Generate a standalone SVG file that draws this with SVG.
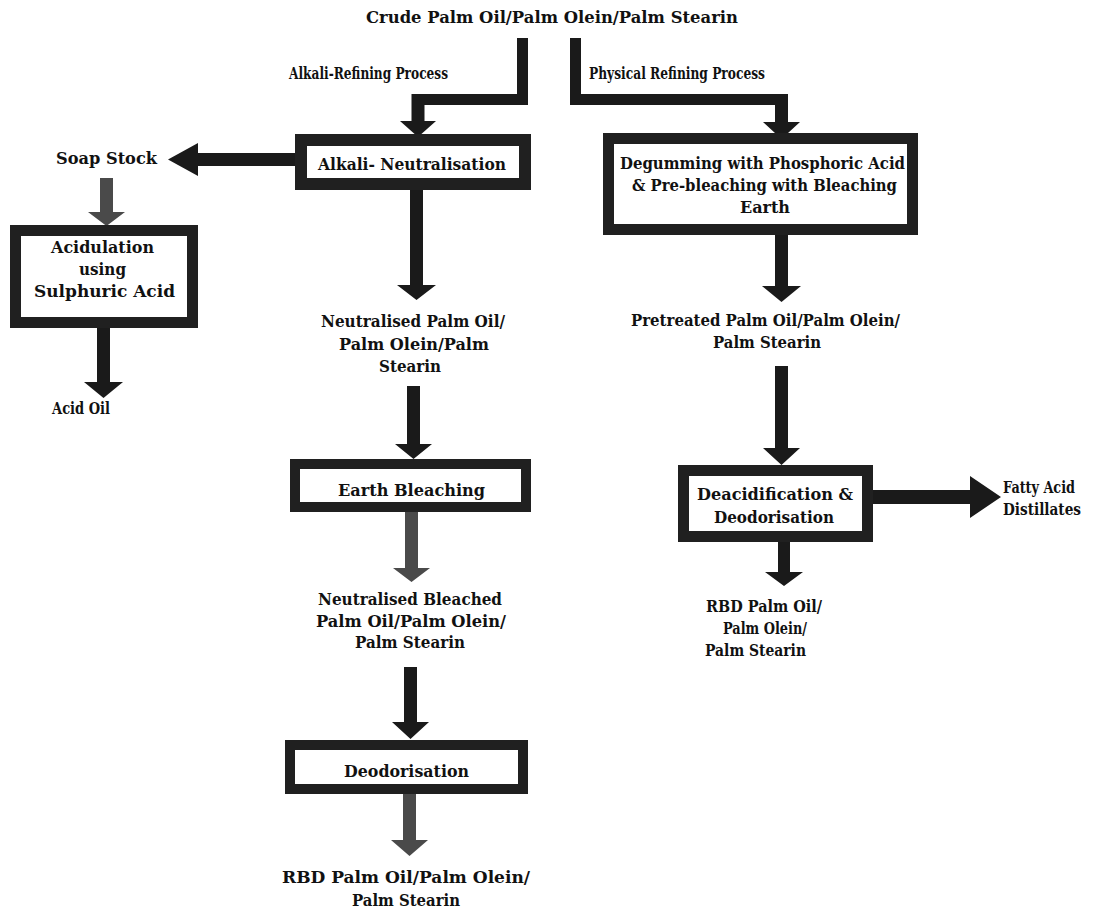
<svg xmlns="http://www.w3.org/2000/svg" width="1107" height="922" viewBox="0 0 1107 922">
<style>
  .t { font-family: "DejaVu Serif", "Liberation Serif", serif; font-weight: bold; font-size: 16px; fill: #111; }
  .box { fill: #fff; stroke: #202020; }
  .ar { fill: #1a1a1a; }
  .ar2 { fill: #4a4a4a; }
</style>
<rect x="0" y="0" width="1107" height="922" fill="#fff"/>

<g id="connectors">
  <path class="ar" d="M517,38 H528 V105 H424.5 V121 H436 L418,137 L400,121 H411.5 V94 H517 Z"/>
  <path class="ar" d="M570,38 H581 V94 H788 V122 H800 L781.5,139 L763,122 H775 V105 H570 Z"/>
  <path class="ar" d="M295,153 V166 H198 V176 L168,159.5 L198,143 V153 Z"/>
  <path class="ar2" d="M100,178 H113 V212 H125 L106.5,226 L88,212 H100 Z"/>
  <path class="ar" d="M97,328 H110 V382 H123 L103.5,398 L84,382 H97 Z"/>
  <path class="ar" d="M410,190 H423 V285 H436 L416.5,300 L397,285 H410 Z"/>
  <path class="ar" d="M407,386 H420 V444 H432 L413.5,459 L395,444 H407 Z"/>
  <path class="ar2" d="M405,512 H418 V568 H430 L411.5,582 L393,568 H405 Z"/>
  <path class="ar" d="M404,667 H417 V722 H429 L410.5,739 L392,722 H404 Z"/>
  <path class="ar2" d="M403,794 H416 V840 H428 L409.5,856 L391,840 H403 Z"/>
  <path class="ar" d="M775,235 H788 V286 H801 L781.5,302 L762,286 H775 Z"/>
  <path class="ar" d="M775,366 H788 V448 H800 L781.5,465 L763,448 H775 Z"/>
  <path class="ar" d="M873,490 H970 V476 L1001,497 L970,518 V504 H873 Z"/>
  <path class="ar" d="M778,542 H790 V572 H803 L784,586 L765,572 H778 Z"/>
</g>

<g id="title">
  <text class="t" x="366" y="23" textLength="372" lengthAdjust="spacingAndGlyphs">Crude Palm Oil/Palm Olein/Palm Stearin</text>
</g>
<g id="label-alkali-refining">
  <text class="t" x="289" y="79" textLength="159" lengthAdjust="spacingAndGlyphs">Alkali-Refining Process</text>
</g>
<g id="label-physical-refining">
  <text class="t" x="589" y="79" textLength="176" lengthAdjust="spacingAndGlyphs">Physical Refining Process</text>
</g>

<g id="alkali-neutralisation">
  <rect class="box" x="301" y="140" width="224" height="44" stroke-width="12"/>
  <text class="t" x="318" y="170" textLength="188" lengthAdjust="spacingAndGlyphs">Alkali- Neutralisation</text>
</g>

<g id="soap-stock">
  <text class="t" x="56" y="164" textLength="101" lengthAdjust="spacingAndGlyphs">Soap Stock</text>
</g>

<g id="acidulation">
  <rect class="box" x="15.5" y="230.5" width="177" height="92" stroke-width="11"/>
  <text class="t" x="51" y="253" textLength="103" lengthAdjust="spacingAndGlyphs">Acidulation</text>
  <text class="t" x="79" y="275" textLength="47" lengthAdjust="spacingAndGlyphs">using</text>
  <text class="t" x="34" y="297" textLength="141" lengthAdjust="spacingAndGlyphs">Sulphuric Acid</text>
</g>

<g id="acid-oil">
  <text class="t" x="52" y="414" textLength="58" lengthAdjust="spacingAndGlyphs">Acid Oil</text>
</g>

<g id="neutralised-oil">
  <text class="t" x="321" y="327" textLength="184" lengthAdjust="spacingAndGlyphs">Neutralised Palm Oil/</text>
  <text class="t" x="339" y="350" textLength="150" lengthAdjust="spacingAndGlyphs">Palm Olein/Palm</text>
  <text class="t" x="379" y="372" textLength="62" lengthAdjust="spacingAndGlyphs">Stearin</text>
</g>

<g id="earth-bleaching">
  <rect class="box" x="295" y="464" width="231" height="43" stroke-width="10"/>
  <text class="t" x="338" y="496" textLength="147" lengthAdjust="spacingAndGlyphs">Earth Bleaching</text>
</g>

<g id="neutralised-bleached">
  <text class="t" x="318" y="605" textLength="184" lengthAdjust="spacingAndGlyphs">Neutralised Bleached</text>
  <text class="t" x="316" y="627" textLength="190" lengthAdjust="spacingAndGlyphs">Palm Oil/Palm Olein/</text>
  <text class="t" x="355" y="648" textLength="110" lengthAdjust="spacingAndGlyphs">Palm Stearin</text>
</g>

<g id="deodorisation">
  <rect class="box" x="290" y="745" width="233" height="44" stroke-width="10"/>
  <text class="t" x="344" y="777" textLength="125" lengthAdjust="spacingAndGlyphs">Deodorisation</text>
</g>

<g id="rbd-left">
  <text class="t" x="282" y="883" textLength="248" lengthAdjust="spacingAndGlyphs">RBD Palm Oil/Palm Olein/</text>
  <text class="t" x="352" y="906" textLength="108" lengthAdjust="spacingAndGlyphs">Palm Stearin</text>
</g>

<g id="degumming">
  <rect class="box" x="608.5" y="138.5" width="304" height="91" stroke-width="11"/>
  <text class="t" x="620" y="169" textLength="285" lengthAdjust="spacingAndGlyphs">Degumming with Phosphoric Acid</text>
  <text class="t" x="632" y="191" textLength="265" lengthAdjust="spacingAndGlyphs">&amp; Pre-bleaching with Bleaching</text>
  <text class="t" x="740" y="213" textLength="50" lengthAdjust="spacingAndGlyphs">Earth</text>
</g>

<g id="pretreated">
  <text class="t" x="631" y="326" textLength="269" lengthAdjust="spacingAndGlyphs">Pretreated Palm Oil/Palm Olein/</text>
  <text class="t" x="713" y="348" textLength="108" lengthAdjust="spacingAndGlyphs">Palm Stearin</text>
</g>

<g id="deacidification">
  <rect class="box" x="683.5" y="470.5" width="184" height="66" stroke-width="11"/>
  <text class="t" x="697" y="500" textLength="156" lengthAdjust="spacingAndGlyphs">Deacidification &amp;</text>
  <text class="t" x="714" y="523" textLength="120" lengthAdjust="spacingAndGlyphs">Deodorisation</text>
</g>

<g id="fatty-acid">
  <text class="t" x="1003" y="493" textLength="72" lengthAdjust="spacingAndGlyphs">Fatty Acid</text>
  <text class="t" x="1003" y="515" textLength="78" lengthAdjust="spacingAndGlyphs">Distillates</text>
</g>

<g id="rbd-right">
  <text class="t" x="706" y="612" textLength="116" lengthAdjust="spacingAndGlyphs">RBD Palm Oil/</text>
  <text class="t" x="723" y="634" textLength="84" lengthAdjust="spacingAndGlyphs">Palm Olein/</text>
  <text class="t" x="705" y="656" textLength="101" lengthAdjust="spacingAndGlyphs">Palm Stearin</text>
</g>
</svg>
